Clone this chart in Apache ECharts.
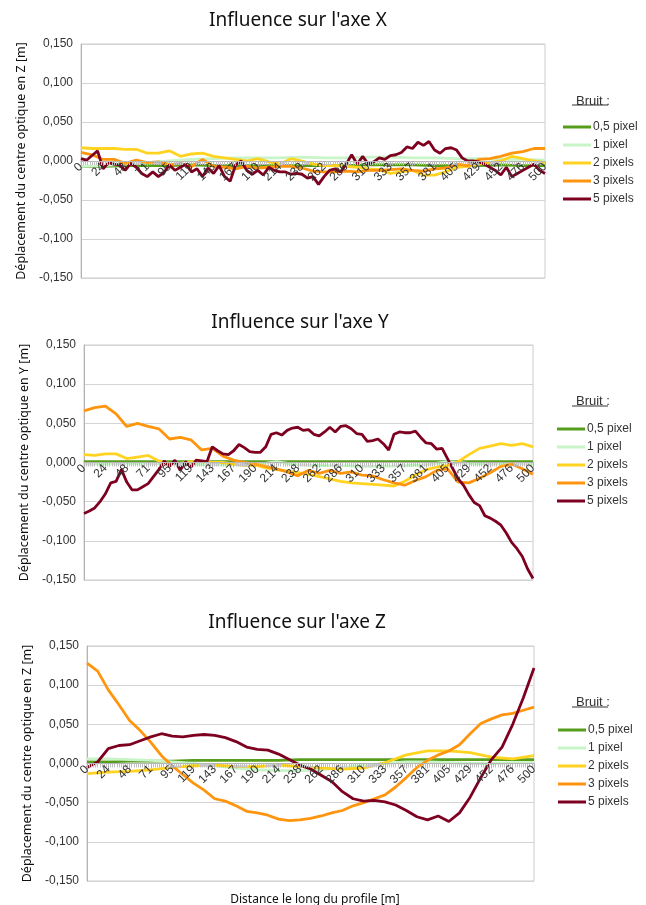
<!DOCTYPE html>
<html><head><meta charset="utf-8">
<script src="https://cdn.jsdelivr.net/npm/echarts@6/dist/echarts.min.js"></script>
<style>html,body{margin:0;padding:0;background:#fff}#c{width:646px;height:905px}</style>
</head><body><div id="c"></div>
<script>
// ---------- DATA ----------
const seriesNames = ['0,5 pixel', '1 pixel', '2 pixels', '3 pixels', '5 pixels'];
const chartTitles = ["Influence sur l'axe X", "Influence sur l'axe Y", "Influence sur l'axe Z"];
const yAxisNames = ['Déplacement du centre optique en Z [m]', 'Déplacement du centre optique en Y [m]', 'Déplacement du centre optique en Z [m]'];
const xAxisName = 'Distance le long du profile [m]';
const legendTitle = 'Bruit :';
const distMax = 500;          // profile length [m]
const labelSteps = 21;        // number of label intervals on the distance axis
const yMin = -0.15, yMax = 0.15, yStep = 0.05;

// sampling positions along the profile (evenly spaced distances)
function samplePositions(n) { const a = []; for (let i = 0; i < n; i++) a.push(i * distMax / (n - 1)); return a; }
const xCoarse = samplePositions(22);
const xMid = samplePositions(43);
const xFine = samplePositions(85);

// --- Axe X ---
const axeX_p05 = [-0.007,-0.007,-0.006,-0.006,-0.006,-0.005,-0.006,-0.006,-0.006,-0.006,-0.006,-0.006,-0.006,-0.005,-0.005,-0.005,-0.006,-0.006,-0.006,-0.005,-0.006,-0.006];
const axeX_p1 = [-0.007,-0.006,-0.004,-0.002,0.000,0.002,0.003,0.004,0.004,0.004,0.005,0.004,0.004,0.005,0.005,0.004,0.004,0.003,0.003,0.002,0.002,0.001];
const axeX_p2 = [0.017,0.016,0.016,0.016,0.015,0.015,0.010,0.010,0.013,0.006,0.009,0.010,0.006,0.004,0.002,0.000,0.003,-0.001,-0.004,0.003,0.000,-0.004,-0.006,-0.006,-0.007,-0.008,-0.010,-0.011,-0.016,-0.014,-0.012,-0.018,-0.018,-0.014,-0.008,-0.007,-0.004,-0.002,0.000,0.006,0.003,0.000,-0.002];
const axeX_p3 = [0.011,0.008,0.002,0.002,-0.003,0.001,-0.002,-0.001,-0.005,-0.003,-0.007,0.002,-0.007,-0.008,-0.010,-0.007,-0.009,-0.008,-0.007,-0.007,-0.009,-0.013,-0.014,-0.014,-0.013,-0.014,-0.012,-0.012,-0.011,-0.010,-0.012,-0.013,-0.010,-0.009,-0.004,-0.006,0.002,0.003,0.006,0.010,0.012,0.016,0.016];
const axeX_p5 = [0.003,0.001,0.007,0.013,-0.010,-0.002,-0.004,-0.005,-0.012,-0.003,
  -0.008,-0.016,-0.020,-0.014,-0.020,-0.015,-0.005,-0.012,-0.008,-0.004,
  -0.014,-0.010,-0.020,-0.009,-0.016,-0.006,-0.020,-0.026,-0.005,0.000,
  -0.012,-0.017,-0.012,-0.018,-0.008,-0.012,-0.014,-0.014,-0.017,-0.016,
  -0.017,-0.022,-0.020,-0.030,-0.020,-0.012,-0.010,-0.014,-0.004,0.008,
  -0.004,0.006,-0.004,-0.001,0.004,0.002,0.007,0.008,0.011,0.018,
  0.016,0.024,0.020,0.025,0.014,0.010,0.016,0.017,0.014,0.004,
  0.000,0.000,-0.001,-0.004,-0.008,-0.012,-0.018,-0.008,-0.020,-0.016,
  -0.012,-0.008,-0.004,-0.012,-0.016];

// --- Axe Y ---
const axeY_p05 = [0.001,0.001,0.001,0.001,0.001,0.001,0.001,0.001,0.001,0.001,0.001,0.001,0.001,0.001,0.001,0.001,0.001,0.001,0.001,0.001,0.001,0.001];
const axeY_p1 = [-0.002,-0.002,-0.001,-0.001,-0.002,-0.002,-0.003,-0.003,-0.003,0.001,-0.003,-0.004,-0.004,-0.005,-0.005,-0.004,-0.003,0.001,-0.001,-0.002,-0.001,-0.002];
const axeY_p2 = [0.010,0.009,0.011,0.011,0.005,0.007,0.009,0.002,-0.002,-0.001,
  0.001,0.001,0.000,0.000,-0.002,-0.004,-0.003,-0.007,-0.009,-0.011,
  -0.013,-0.015,-0.018,-0.021,-0.024,-0.026,-0.027,-0.028,-0.029,-0.030,
  -0.024,-0.016,-0.009,-0.006,-0.004,0.001,0.010,0.018,0.021,0.024,
  0.022,0.024,0.020];
const axeY_p3 = [0.066,0.070,0.072,0.062,0.046,0.050,0.046,0.043,0.030,0.032,
  0.029,0.016,0.018,0.008,0.003,0.000,-0.002,-0.005,-0.008,-0.012,
  -0.017,-0.010,-0.014,-0.010,-0.014,-0.012,-0.016,-0.017,-0.022,-0.026,
  -0.029,-0.023,-0.018,-0.010,-0.008,-0.025,-0.026,-0.020,-0.013,-0.005,
  -0.002,-0.008,-0.015];
const axeY_p5 = [-0.065,-0.062,-0.058,-0.050,-0.040,-0.026,-0.024,-0.009,-0.025,-0.035,
  -0.035,-0.031,-0.027,-0.018,-0.009,0.002,-0.005,0.003,-0.010,0.001,
  -0.006,0.003,0.002,0.001,0.020,0.015,0.011,0.010,0.015,0.023,
  0.019,0.014,0.013,0.013,0.020,0.036,0.038,0.035,0.041,0.044,
  0.045,0.041,0.042,0.036,0.034,0.039,0.045,0.039,0.046,0.047,
  0.043,0.037,0.036,0.027,0.028,0.030,0.024,0.016,0.036,0.039,
  0.038,0.038,0.040,0.032,0.025,0.024,0.017,0.018,0.005,-0.008,
  -0.021,-0.029,-0.041,-0.051,-0.055,-0.068,-0.071,-0.075,-0.080,-0.090,
  -0.102,-0.110,-0.120,-0.136,-0.148];

// --- Axe Z ---
const axeZ_p05 = [0.002,0.002,0.003,0.003,0.003,0.004,0.004,0.004,0.004,0.004,0.005,0.005,0.005,0.005,0.005,0.005,0.005,0.005,0.005,0.005,0.005,0.005];
const axeZ_p1 = [0.006,0.006,0.005,0.004,0.002,0.000,-0.003,-0.006,-0.008,-0.009,-0.009,-0.008,-0.005,-0.002,0.000,0.002,0.002,0.001,0.000,0.000,0.001,0.001];
const axeZ_p2 = [-0.013,-0.011,-0.010,-0.008,-0.005,-0.003,-0.002,-0.004,-0.004,-0.002,-0.004,-0.006,-0.007,-0.006,0.001,0.011,0.016,0.016,0.014,0.008,0.006,0.010];
const axeZ_p3 = [0.128,0.118,0.094,0.075,0.055,0.042,0.027,0.010,-0.003,-0.014,
  -0.025,-0.034,-0.045,-0.048,-0.054,-0.061,-0.063,-0.066,-0.071,-0.073,
  -0.072,-0.070,-0.067,-0.063,-0.060,-0.054,-0.050,-0.045,-0.040,-0.030,
  -0.018,-0.005,0.004,0.011,0.016,0.024,0.038,0.051,0.057,0.062,
  0.064,0.068,0.072];
const axeZ_p5 = [-0.005,0.002,0.019,0.023,0.024,0.029,0.034,0.038,0.035,0.034,
  0.036,0.037,0.036,0.033,0.028,0.021,0.018,0.017,0.012,0.005,
  -0.002,-0.007,-0.015,-0.023,-0.036,-0.045,-0.048,-0.047,-0.049,-0.053,
  -0.060,-0.068,-0.072,-0.067,-0.074,-0.063,-0.043,-0.018,0.005,0.021,
  0.050,0.084,0.122];

// ---------- STYLE / LAYOUT ----------
const seriesColors = ['#579d1c', '#c8f4c8', '#ffd320', '#ff950e', '#7e0021'];
const panels = [
  { grid: { left: 81, right: 101, top: 44, height: 234 }, titleX: 293, titleTop: 6, legendLeft: 558, legendTop: 115, bruitTop: 90, underlineY: 105,
    data: [[xCoarse, axeX_p05], [xCoarse, axeX_p1], [xMid, axeX_p2], [xMid, axeX_p3], [xFine, axeX_p5]] },
  { grid: { left: 84, right: 113, top: 345, height: 235 }, titleX: 295, titleTop: 308, legendLeft: 552, legendTop: 417, bruitTop: 390, underlineY: 406,
    data: [[xCoarse, axeY_p05], [xCoarse, axeY_p1], [xMid, axeY_p2], [xMid, axeY_p3], [xFine, axeY_p5]] },
  { grid: { left: 87, right: 112, top: 646, height: 235 }, titleX: 292, titleTop: 608, legendLeft: 553, legendTop: 718, bruitTop: 691, underlineY: 707,
    data: [[xCoarse, axeZ_p05], [xCoarse, axeZ_p1], [xCoarse, axeZ_p2], [xMid, axeZ_p3], [xMid, axeZ_p5]] }
];

const txt = '#333333';
const gridCol = '#d4d4d4';
const option = { animation: false, backgroundColor: '#ffffff', title: [], legend: [], grid: [], xAxis: [], yAxis: [], series: [], graphic: [] };

panels.forEach((p, k) => {
  option.grid.push(Object.assign({ show: true, borderColor: '#cccccc', borderWidth: 1, backgroundColor: 'transparent' }, p.grid));
  option.title.push({ text: chartTitles[k], left: p.titleX, top: p.titleTop, textAlign: 'center',
    textStyle: { fontFamily: 'Noto Sans', fontSize: 19, fontWeight: 'normal', color: '#111' } });
  option.title.push({ text: legendTitle, left: 571, top: p.bruitTop,
    textStyle: { fontFamily: 'Liberation Sans', fontSize: 13, fontWeight: 'normal', color: txt } });
  option.graphic.push({ type: 'line', shape: { x1: 572, y1: p.underlineY, x2: 608, y2: p.underlineY }, style: { stroke: txt, lineWidth: 1 } });
  option.legend.push({ orient: 'vertical', left: p.legendLeft, top: p.legendTop, itemWidth: 28, itemHeight: 3, itemGap: 4,
    icon: 'rect', data: seriesNames, selectedMode: false,
    textStyle: { fontFamily: 'Liberation Sans', fontSize: 12, color: txt, lineHeight: 14, padding: [0, 0, 0, -3] } });
  option.xAxis.push({ type: 'value', gridIndex: k, min: 0, max: distMax, interval: distMax / labelSteps,
    position: 'bottom', offset: -p.grid.height / 2, zlevel: 1, z: 10,
    axisLine: { onZero: false, lineStyle: { color: '#b3b3b3', width: 1 } },
    axisTick: { show: true, length: 5, lineStyle: { color: '#b3b3b3' } },
    minorTick: { show: true, splitNumber: 10, length: 4, lineStyle: { color: '#c0c0c0' } },
    splitLine: { show: false },
    axisLabel: { rotate: 45, margin: 4, fontFamily: 'Liberation Sans', fontSize: 12, color: txt,
      formatter: v => String(Math.round(v)) } });
  option.yAxis.push({ type: 'value', gridIndex: k, min: yMin, max: yMax, interval: yStep,
    name: yAxisNames[k], nameLocation: 'middle', nameGap: 52,
    nameTextStyle: { fontFamily: 'Noto Sans', fontSize: 12.5, color: '#111' },
    axisLine: { show: true, onZero: false, lineStyle: { color: '#b3b3b3' } },
    axisTick: { show: false },
    splitLine: { show: true, lineStyle: { color: gridCol, width: 1 } },
    axisLabel: { margin: 8, fontFamily: 'Liberation Sans', fontSize: 12, color: txt,
      formatter: v => (Math.abs(v) < 1e-9 ? 0 : v).toFixed(3).replace('.', ',') } });
  p.data.forEach((pair, s) => {
    const xs = pair[0], ys = pair[1];
    option.series.push({ type: 'line', name: seriesNames[s], xAxisIndex: k, yAxisIndex: k,
      data: ys.map((y, i) => [xs[i], y]), showSymbol: false, symbol: 'none', smooth: false,
      lineStyle: { color: seriesColors[s], width: 2.8 }, itemStyle: { color: seriesColors[s] }, z: 2 + s });
  });
});
option.title.push({ text: xAxisName, left: 310, top: 889, textAlign: 'center',
  textStyle: { fontFamily: 'Noto Sans', fontSize: 12, fontWeight: 'normal', color: '#111' } });

const chart = echarts.init(document.getElementById('c'), null, { renderer: 'canvas' });
chart.setOption(option);
</script></body></html>
